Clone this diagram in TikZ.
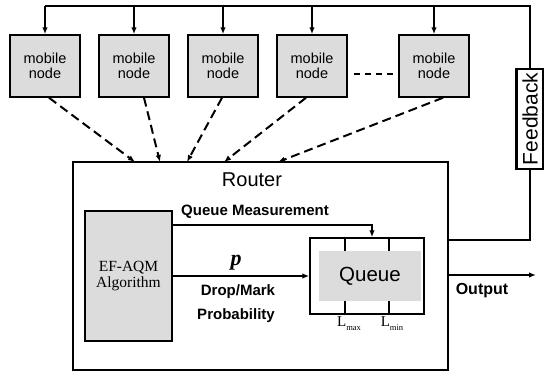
\documentclass[tikz,border=0pt]{standalone}
\usepackage{fontspec}
\setmainfont{Liberation Sans}
\newfontfamily\timesfont{Liberation Serif}
\usetikzlibrary{arrows.meta,positioning}
\definecolor{boxgray}{RGB}{220,220,220}
\tikzset{every path/.style={line width=1.5pt},
         mobile/.style={draw, fill=boxgray, minimum width=70, minimum height=62, align=center,
                        font=\fontsize{14.5}{15}\selectfont, inner sep=0pt},
         tip/.style={-{Latex[length=7pt,width=5.5pt]}},
         wireless/.style={tip, dash pattern=on 9pt off 5pt, line width=2pt},
         lbl/.style={font=\fontsize{15}{15}\selectfont\bfseries, inner sep=0pt}}

\begin{document}
\begin{tikzpicture}[x=1pt,y=-1pt]
   \useasboundingbox (0,0) rectangle (544,372);
   % mobile nodes
   \node[mobile] (mn1) at ( 45,66) {mobile\\node};
   \node[mobile] (mn2) at (134,66) {mobile\\node};
   \node[mobile] (mn3) at (223,66) {mobile\\node};
   \node[mobile] (mn4) at (312,66) {mobile\\node};
   \node[mobile] (mn5) at (434,66) {mobile\\node};
   \coordinate (dotsl) at (354,74);
   \coordinate (dotsr) at (394,74);
   \draw[dash pattern=on 6pt off 5pt] (dotsl) -- (dotsr);
   % router
   \node[draw, minimum width=375, minimum height=208, inner sep=0pt] (router) at (260.5,266) {};
   \node[font=\fontsize{20}{20}\selectfont, inner sep=0pt] (rlabel) at (252,180) {Router};
   \node[draw, fill=boxgray, minimum width=87, minimum height=130, align=center, inner sep=0pt,
         font=\timesfont\fontsize{15.5}{16}\selectfont] (aqm) at (128.5,276) {EF-AQM\\Algorithm};
   \node[draw, minimum width=114, minimum height=76, inner sep=0pt] (qbox) at (367,276) {};
   \node[fill=boxgray, minimum width=102, minimum height=50, inner sep=0pt,
         font=\fontsize{20.5}{20}\selectfont] (queue) at (370,276) {Queue};
   \draw (345,238) -- (345,251) (389,238) -- (389,251);
   \draw (345,301) -- (345,314) (389,301) -- (389,314);
   \node[font=\timesfont\fontsize{15}{15}\selectfont, inner sep=0pt] (lmax) at (349,324)
        {L\raisebox{-4pt}{\fontsize{8.5}{9}\selectfont max}};
   \node[font=\timesfont\fontsize{15}{15}\selectfont, inner sep=0pt] (lmin) at (392,324)
        {L\raisebox{-4pt}{\fontsize{8.5}{9}\selectfont min}};
   % wireless links into the router
   \coordinate (in1) at (135,162);
   \coordinate (in2) at (160,162);
   \coordinate (in3) at (187,162);
   \coordinate (in4) at (224,162);
   \coordinate (in5) at (278,162);
   \draw[wireless] ([xshift= 4]mn1.south) -- (in1);
   \draw[wireless] ([xshift=10]mn2.south) -- (in2);
   \draw[wireless] ([xshift=-1]mn3.south) -- (in3);
   \draw[wireless] ([xshift=-6]mn4.south) -- (in4);
   \draw[wireless] ([xshift= 9]mn5.south) -- (in5);
   % inside the router
   \coordinate (qm) at (372,225);
   \draw[tip] (aqm.east |- qm) -- (qm) -- (qm |- qbox.north);
   \node[lbl] (qmlabel) at (255,212) {Queue Measurement};
   \draw[tip] (aqm.east |- qbox.center) -- (qbox.west);
   \node[font=\timesfont\fontsize{22}{22}\selectfont\bfseries\itshape, inner sep=0pt] (plabel) at (236,263) {p};
   \node[lbl] (droplabel) at (238,292) {Drop/Mark};
   \node[lbl] (problabel) at (236,316) {Probability};
   % output and feedback
   \coordinate (out) at (536,275);
   \draw[tip] (router.east |- out) -- (out);
   \node[lbl, font=\fontsize{16}{16}\selectfont\bfseries] (outlabel) at (482,291) {Output};
   \node[draw, line width=2.5pt, rotate=90, minimum width=100, minimum height=27, inner sep=0pt,
         font=\fontsize{21}{21}\selectfont] (fb) at (530,119) {Feedback};
   \coordinate (fbin) at (530,240);
   \coordinate (fbtop) at (530,6);
   \draw (router.east |- fbin) -- (fbin) -- (fb.west);
   \draw (fb.east) -- (fbtop) -- (fbtop -| mn1.north);
   \draw[tip] (mn1.north |- fbtop) -- (mn1.north);
   \draw[tip] (mn2.north |- fbtop) -- (mn2.north);
   \draw[tip] (mn3.north |- fbtop) -- (mn3.north);
   \draw[tip] (mn4.north |- fbtop) -- (mn4.north);
   \draw[tip] (mn5.north |- fbtop) -- (mn5.north);
\end{tikzpicture}
\end{document}
